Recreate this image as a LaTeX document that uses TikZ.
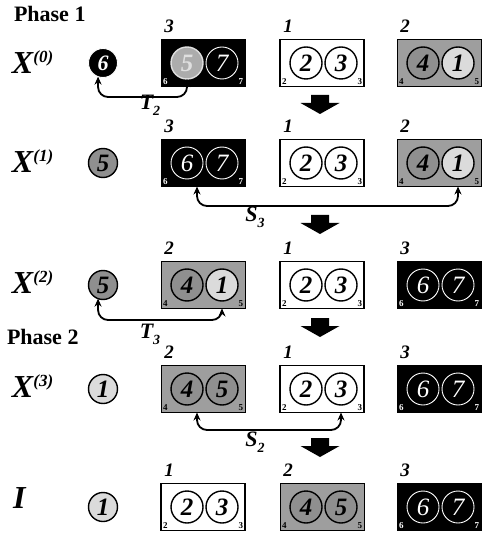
\documentclass[tikz,border=0pt]{standalone}
\usepackage{fontspec}
\setmainfont{Liberation Serif}
\usetikzlibrary{arrows.meta}
\definecolor{gbox}{gray}{0.62}
\definecolor{gdark}{gray}{0.56}
\definecolor{glight}{gray}{0.86}
\tikzset{
 base/.style={inner sep=0pt, outer sep=0pt},
 boxbase/.style={base, draw=black, minimum width=84pt, minimum height=47pt},
 boxw/.style={boxbase, fill=white, line width=1.6pt,
   label={[corner, anchor=south west, xshift=2pt, yshift=2pt]south west:2},
   label={[corner, anchor=south east, xshift=-2pt, yshift=2pt]south east:3}},
 boxg/.style={boxbase, fill=gbox, line width=1pt,
   label={[corner, anchor=south west, xshift=2pt, yshift=2pt]south west:4},
   label={[corner, anchor=south east, xshift=-2pt, yshift=2pt]south east:5}},
 boxk/.style={boxbase, fill=black, line width=1pt,
   label={[corner, text=white, anchor=south west, xshift=2pt, yshift=2pt]south west:6},
   label={[corner, text=white, anchor=south east, xshift=-2pt, yshift=2pt]south east:7}},
 circ/.style={base, circle, minimum size=32pt, line width=1.4pt, font=\bfseries\itshape\fontsize{25}{25}\selectfont},
 cw/.style={circ, draw=black, fill=white},
 ck/.style={circ, draw=white, fill=black, text=white, line width=0.9pt, font=\itshape\fontsize{25}{25}\selectfont},
 cg/.style={circ, draw=black, fill=gdark},
 cl/.style={circ, draw=black, fill=glight},
 cx/.style={circ, draw=gray!25, fill=gray!65, text=gray!25},
 single/.style={minimum size=29pt},
 corner/.style={base, font=\bfseries\fontsize{9}{9}\selectfont},
 collab/.style={base, font=\bfseries\itshape\fontsize{19}{19}\selectfont},
 rowlab/.style={base, anchor=west, font=\bfseries\itshape\fontsize{32}{32}\selectfont},
 phase/.style={base, anchor=west, font=\bfseries\fontsize{22}{22}\selectfont},
 conn/.style={line width=1.8pt, rounded corners=10pt, {Stealth[length=8pt,width=7pt]}-{Stealth[length=8pt,width=7pt]}},
 clab/.style={base, font=\bfseries\itshape\fontsize{22}{22}\selectfont},
 fat/.style={fill=black},
}
\newcommand\pbox[9]{%
 \node[#2] (#1) at (#3+42,#4) {};
 \node[collab] (#1l) at (#3+8,#4-37) {#5};
 \node[#6] (#11) at (#3+26,#4) {#7};
 \node[#8] (#12) at (#3+61,#4) {#9};
}
\newcommand\supx[1]{\raisebox{11pt}{\fontsize{17}{17}\selectfont(#1)}}
\newcommand\subx[1]{\raisebox{-6pt}{\fontsize{14}{14}\selectfont #1}}
\newcommand\fatarrow[1]{%
 \fill[fat] (#1) ++(-9,0) -- ++(18,0) -- ++(0,8) -- ++(10.5,0) -- ++(-19.5,11) -- ++(-19.5,-11) -- ++(10.5,0) -- cycle;
}
\begin{document}
\begin{tikzpicture}[x=1pt, y=-1pt]
\useasboundingbox (0,0) rectangle (481,534);
% phase labels
\node[phase] (ph1) at (14,14) {Phase 1};
\node[phase] (ph2) at (7,337) {Phase 2};
% row labels
\node[rowlab] (r0) at (12,62) {X\supx{0}};
\node[rowlab] (r1) at (12,161) {X\supx{1}};
\node[rowlab] (r2) at (12,282) {X\supx{2}};
\node[rowlab] (r3) at (12,386) {X\supx{3}};
\node[rowlab] (r4) at (13,498) {I};
% single circles
\node[ck, single, font=\bfseries\itshape\fontsize{22}{22}\selectfont] (s0) at (103,63) {6};
\node[cg, single] (s1) at (103,163) {5};
\node[cg, single] (s2) at (103,285) {5};
\node[cl, single] (s3) at (103,389) {1};
\node[cl, single] (s4) at (103,507) {1};
% row 0
\pbox{b0A}{boxk}{161}{63}{3}{cx}{5}{ck}{7}
\pbox{b0B}{boxw}{280}{63}{1}{cw}{2}{cw}{3}
\pbox{b0C}{boxg}{397}{63}{2}{cg}{4}{cl}{1}
% row 1
\pbox{b1A}{boxk}{161}{163}{3}{ck}{6}{ck}{7}
\pbox{b1B}{boxw}{280}{163}{1}{cw}{2}{cw}{3}
\pbox{b1C}{boxg}{397}{163}{2}{cg}{4}{cl}{1}
% row 2
\pbox{b2A}{boxg}{161}{285}{2}{cg}{4}{cl}{1}
\pbox{b2B}{boxw}{280}{285}{1}{cw}{2}{cw}{3}
\pbox{b2C}{boxk}{397}{285}{3}{ck}{6}{ck}{7}
% row 3
\pbox{b3A}{boxg}{161}{389}{2}{cg}{4}{cg}{5}
\pbox{b3B}{boxw}{280}{389}{1}{cw}{2}{cw}{3}
\pbox{b3C}{boxk}{397}{389}{3}{ck}{6}{ck}{7}
% row 4
\pbox{b4A}{boxw}{161}{507}{1}{cw}{2}{cw}{3}
\pbox{b4B}{boxg}{280}{507}{2}{cg}{4}{cg}{5}
\pbox{b4C}{boxk}{397}{507}{3}{ck}{6}{ck}{7}
% fat arrows
\coordinate (f1) at (320,95);
\coordinate (f2) at (320,215);
\coordinate (f3) at (320,318);
\coordinate (f4) at (320,438);
\fatarrow{f1}
\fatarrow{f2}
\fatarrow{f3}
\fatarrow{f4}
% connectors
\coordinate (t2y) at (0,97);
\draw[line width=1.8pt, rounded corners=10pt, {Stealth[length=8pt,width=7pt]}-{Stealth[length=8pt,width=7pt,fill=white]}]
  (s0.250) |- (t2y -| b0A1.south) -- (b0A1.south);
\node[clab] (lt2) at (150,105) {T\subx{2}};
\coordinate (s3y) at (0,206);
\coordinate (s3a) at ([xshift=-6pt]b1A.south);
\coordinate (s3b) at (b1C2 |- b1C.south);
\draw[conn] (s3a) |- (s3y -| s3b) -- (s3b);
\node[clab] (ls3) at (255,217) {S\subx{3}};
\coordinate (t3y) at (0,320);
\coordinate (t3b) at (b2A2 |- b2A.south);
\draw[conn] (s2.250) |- (t3y -| t3b) -- (t3b);
\node[clab] (lt3) at (150,334) {T\subx{3}};
\coordinate (s2y) at (0,430);
\coordinate (s2a) at ([xshift=-6pt]b3A.south);
\coordinate (s2b) at (b3B2 |- b3B.south);
\draw[conn] (s2a) |- (s2y -| s2b) -- (s2b);
\node[clab] (ls2) at (255,442) {S\subx{2}};
\end{tikzpicture}
\end{document}
